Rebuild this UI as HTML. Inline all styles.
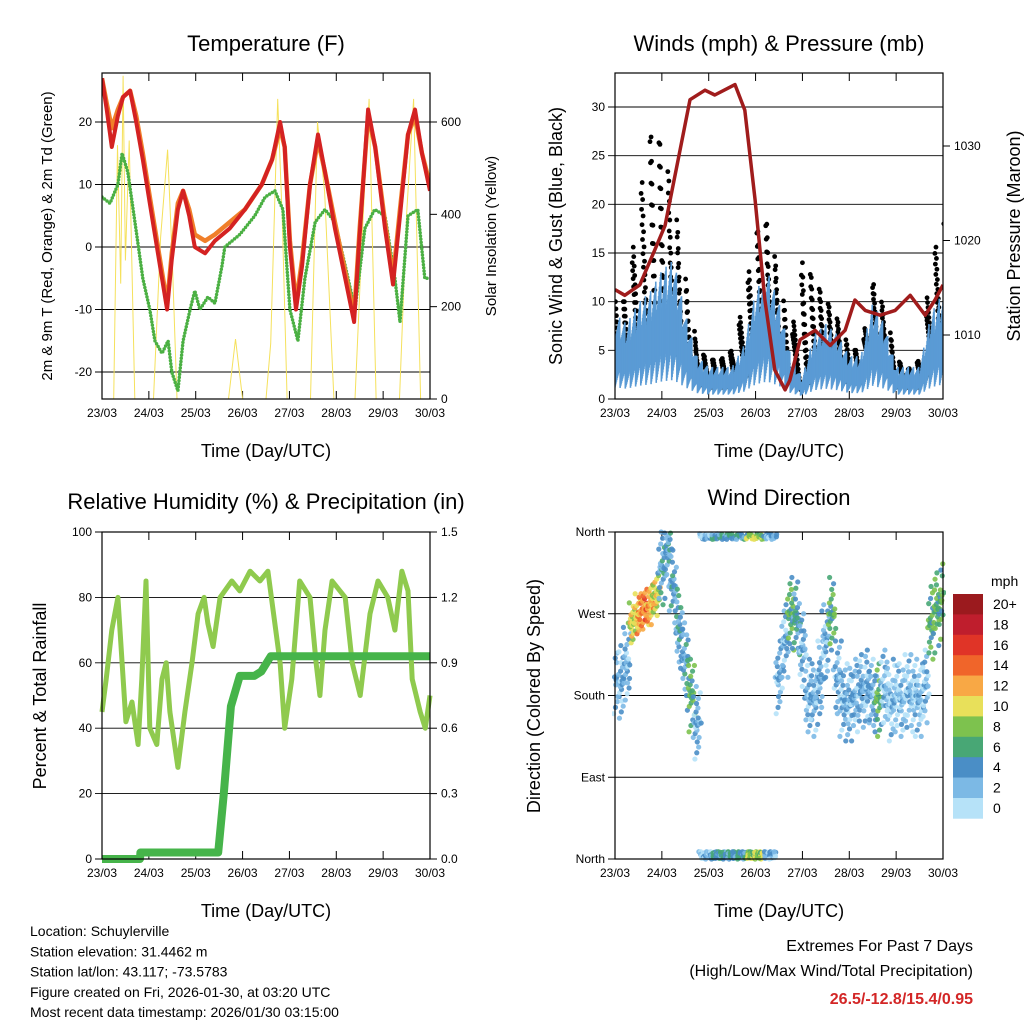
<!DOCTYPE html>
<html><head><meta charset="utf-8"><style>
html,body{margin:0;padding:0;background:#fff;}
svg{display:block;font-family:"Liberation Sans",Arial,sans-serif;}
</style></head><body>
<svg id="s" width="1024" height="1024" viewBox="0 0 1024 1024" xmlns="http://www.w3.org/2000/svg">
<rect width="1024" height="1024" fill="#fff"/>
<g id="g"></g>
</svg>
<script>
// ---------- DATA ----------
const dayLabels=["23/03","24/03","25/03","26/03","27/03","28/03","29/03","30/03"];
const tempTimes=[0,0.1,0.21,0.34,0.45,0.6,0.73,0.87,1.02,1.15,1.28,1.39,1.49,1.62,1.73,1.86,1.98,2.2,2.41,2.73,3.05,3.41,3.63,3.8,3.9,4.01,4.14,4.27,4.44,4.61,4.76,4.97,5.19,5.38,5.5,5.68,5.83,6.04,6.21,6.36,6.53,6.68,6.83,7.0];
const temp2m=[27,22,16,21,24,25,20,14,7,1,-5,-10,-2,6,9,5,0,-1,1,3,6,10,14,20,16,0,-10,-3,10,18,12,3,-5,-12,2,22,16,3,-6,5,18,22,15,9];
const temp9m=[27,23,19,22,24,25,21,15,8,2,-4,-9,-1,7,9,6,2,1,2,4,6,10,14,19,16,1,-9,-2,10,17,12,4,-4,-11,3,21,16,4,-5,6,18,21,15,10];
const dewTimes=[0,0.17,0.34,0.43,0.55,0.74,0.87,1.02,1.13,1.28,1.41,1.49,1.62,1.73,1.88,1.98,2.09,2.26,2.41,2.56,2.62,2.94,3.26,3.48,3.69,3.86,4.01,4.18,4.33,4.55,4.76,4.97,5.19,5.4,5.61,5.82,6.04,6.25,6.36,6.53,6.74,6.89,7.0];
const dewPoint=[8,7,10,15,12,2,-5,-10,-15,-17,-15,-20,-23,-15,-10,-7,-10,-8,-9,-3,0,2,5,8,9,6,-10,-15,-5,4,6,4,-3,-10,3,6,5,-5,-12,5,6,-5,-5];
const solarTimes=[0,0.25,0.33,0.4,0.45,0.5,0.58,0.7,1.1,1.25,1.4,1.5,1.6,2.7,2.85,3.0,3.5,3.6,3.75,3.85,3.95,4.45,4.6,4.75,4.95,5.4,5.55,5.7,5.85,6.35,6.5,6.65,6.8,7.0];
const solarVal=[0,0,550,250,700,300,560,0,0,350,540,300,0,0,130,0,0,120,650,380,0,0,600,450,0,0,350,650,0,0,400,650,0,0];
const windTimes=[0,0.25,0.5,0.75,1,1.25,1.5,1.75,2,2.25,2.5,2.75,3,3.25,3.5,3.75,4,4.25,4.5,4.75,5,5.25,5.5,5.75,6,6.25,6.5,6.75,7];
const windMean=[8,7,9,10,12,13,8,4,3,3,3,5,10,12,9,4,2,6,7,6,4,4,9,7,3,3,3,8,10];
const windGust=[10,10,20,27,26,20,12,5,4,4,5,10,17,18,12,6,14,12,10,8,5,5,12,9,4,3,4,14,18];
const presTimes=[0,0.21,0.53,0.85,1.07,1.39,1.6,1.92,2.13,2.56,2.77,2.99,3.2,3.41,3.63,3.73,3.95,4.27,4.59,4.91,5.12,5.34,5.66,5.98,6.3,6.62,6.83,7.0];
const pressure=[1014.8,1014.2,1015.3,1019,1021.6,1029.6,1034.9,1035.9,1035.4,1036.5,1033.8,1024.3,1013.7,1006.3,1004.2,1005.2,1009.5,1010.5,1008.9,1010.5,1013.7,1012.6,1012.1,1012.6,1014.2,1012.1,1013.7,1015.3];
const rhTimes=[0,0.09,0.21,0.34,0.43,0.51,0.64,0.77,0.85,0.94,1.02,1.17,1.28,1.37,1.45,1.62,1.77,1.92,2.05,2.18,2.26,2.37,2.52,2.77,2.94,3.16,3.37,3.54,3.8,3.9,4.05,4.22,4.44,4.57,4.65,4.76,4.91,5.19,5.34,5.51,5.72,5.89,6.1,6.25,6.4,6.53,6.62,6.79,6.9,7.0];
const rhVal=[45,55,70,80,60,42,48,35,55,85,40,35,55,60,45,28,45,60,75,80,72,65,80,85,82,88,85,88,60,40,55,85,80,60,50,70,85,80,60,50,75,85,80,70,88,82,55,45,40,50];
const rainTimes=[0,0.81,0.82,2.48,2.6,2.75,2.94,3.25,3.4,3.6,7.0];
const rainVal=[0,0,0.03,0.03,0.3,0.7,0.84,0.84,0.86,0.93,0.93];
const dirTimes=[0,0.125,0.25,0.375,0.5,0.625,0.75,0.875,1,1.125,1.25,1.375,1.5,1.625,1.75,1.875,2,2.125,2.25,2.375,2.5,2.625,2.75,2.875,3,3.125,3.25,3.375,3.5,3.625,3.75,3.875,4,4.125,4.25,4.375,4.5,4.625,4.75,4.875,5,5.125,5.25,5.375,5.5,5.625,5.75,5.875,6,6.125,6.25,6.375,6.5,6.625,6.75,6.875,7];
const dirVal=[200,195,215,260,270,275,280,290,320,340,300,250,220,180,150,10,5,358,358,358,5,358,5,5,5,358,5,10,200,240,270,265,230,180,175,200,240,270,200,175,170,180,185,190,180,175,190,170,180,175,185,180,175,190,260,275,285];
const dirSpeed=[3,3,3,10,12,14,12,10,4,4,4,4,4,7,3,2,2,5,5,5,5,5,5,9,9,9,3,3,3,3,7,5,3,3,3,3,3,7,3,3,3,3,3,3,3,7,2,2,2,2,2,2,2,2,7,7,7];
const speedLabels=["20+","18","16","14","12","10","8","6","4","2","0"];
const speedColors=["#9b1a1e","#bf1e2d","#e03427","#f0652a","#f8a845","#e8e05a","#7dc24e","#48a775","#4a8ec6","#7cb9e5","#b6e2f8"];

// ---------- DRAW ----------
const NS="http://www.w3.org/2000/svg";
const G=document.getElementById('g');
function el(tag,attrs,parent,text){const e=document.createElementNS(NS,tag);for(const k in attrs)e.setAttribute(k,attrs[k]);if(text!==undefined)e.textContent=text;(parent||G).appendChild(e);return e;}
function lin(d0,d1,r0,r1){return v=>r0+(v-d0)*(r1-r0)/(d1-d0);}
function interp(ts,vs,t){if(t<=ts[0])return vs[0];for(let i=1;i<ts.length;i++){if(t<=ts[i]){const f=(t-ts[i-1])/(ts[i]-ts[i-1]);return vs[i-1]+f*(vs[i]-vs[i-1]);}}return vs[vs.length-1];}
function pts(ts,vs,xs,ys){return ts.map((t,i)=>xs(t).toFixed(1)+','+ys(vs[i]).toFixed(1)).join(' ');}

function frame(x0,y0,w,h,name){
  const g=el('g',{});
  
  
  return g;
}
function xAxis(g,x0,y0,w,h){
  const xs=lin(0,7,x0,x0+w);
  dayLabels.forEach((lab,i)=>{
    const x=xs(i);
    el('line',{x1:x,y1:y0+h,x2:x,y2:y0+h-8,stroke:'#000','stroke-width':1},g);
    el('line',{x1:x,y1:y0,x2:x,y2:y0+8,stroke:'#000','stroke-width':1},g);
    const t=el('text',{x:x,y:y0+h+18,'font-size':12,'text-anchor':'middle'},g,lab);
    
    
  });
  const t=el('text',{x:x0+w/2,y:y0+h+58,'font-size':18,'text-anchor':'middle'},g,'Time (Day/UTC)');
  
  
  return xs;
}
function yTicks(g,x0,y0,w,h,ys,vals,labels,side,grid){
  vals.forEach((v,i)=>{
    const y=ys(v);
    if(side==='left'){
      if(grid) el('line',{x1:x0-7,y1:y,x2:x0+w,y2:y,stroke:'#000','stroke-width':0.9},g);
      else el('line',{x1:x0-7,y1:y,x2:x0,y2:y,stroke:'#000'},g);
      const t=el('text',{x:x0-10,y:y+4,'font-size':12,'text-anchor':'end'},g,labels[i]);
      
      
    }else{
      el('line',{x1:x0+w,y1:y,x2:x0+w+7,y2:y,stroke:'#000'},g);
      const t=el('text',{x:x0+w+11,y:y+4,'font-size':12,'text-anchor':'start'},g,labels[i]);
      
      
    }
  });
}
function border(g,x0,y0,w,h){el('rect',{x:x0,y:y0,width:w,height:h,fill:'none',stroke:'#000','stroke-width':1.2},g);}
function title(txt,x,y,name){const t=el('text',{x:x,y:y,'font-size':22,'text-anchor':'middle'},G,txt);}
function vtitle(txt,x,y,size,name){const t=el('text',{x:x,y:y,'font-size':size,'text-anchor':'middle',transform:`rotate(-90 ${x} ${y})`},G,txt);}

// Panel 1: temperature
(function(){
  const x0=102,y0=73,w=328,h=326;
  const g=frame(x0,y0,w,h,'temperature-panel');
  const ys=lin(0,20,247,122), ys2=lin(0,600,399,122);
  yTicks(g,x0,y0,w,h,ys,[-20,-10,0,10,20],["-20","-10","0","10","20"],'left',true);
  yTicks(g,x0,y0,w,h,ys2,[0,200,400,600],["0","200","400","600"],'right',false);
  const xs=xAxis(g,x0,y0,w,h);
  const clip=el('clipPath',{id:'c1'},g);el('rect',{x:x0,y:y0,width:w,height:h},clip);
  const p=el('g',{'clip-path':'url(#c1)'},g);
  let l=el('polyline',{points:pts(solarTimes,solarVal,xs,ys2),fill:'none',stroke:'#f5e15c','stroke-width':1},p);
  
  l=el('polyline',{points:pts(dewTimes,dewPoint,xs,ys),fill:'none',stroke:'#4bb043','stroke-width':3.5,'stroke-linecap':'round','stroke-dasharray':'0 3.2'},p);
  
  l=el('polyline',{points:pts(tempTimes,temp9m,xs,ys),fill:'none',stroke:'#f07f2a','stroke-width':4.5,'stroke-linejoin':'round'},p);
  
  l=el('polyline',{points:pts(tempTimes,temp2m,xs,ys),fill:'none',stroke:'#d42222','stroke-width':4,'stroke-linejoin':'round'},p);
  
  border(g,x0,y0,w,h);
  title('Temperature (F)',266,51,'temperature-title');
  vtitle('2m & 9m T (Red, Orange) & 2m Td (Green)',52,236,15,'temperature-y-axis-title');
  vtitle('Solar Insolation (Yellow)',496,236,15,'solar-y-axis-title');
})();

// Panel 2: winds & pressure
(function(){
  const x0=615,y0=73,w=328,h=326;
  const g=frame(x0,y0,w,h,'winds-pressure-panel');
  const ys=lin(0,30,399,107), ys2=lin(1010,1030,335,146);
  yTicks(g,x0,y0,w,h,ys,[0,5,10,15,20,25,30],["0","5","10","15","20","25","30"],'left',true);
  yTicks(g,x0,y0,w,h,ys2,[1010,1020,1030],["1010","1020","1030"],'right',false);
  const xs=xAxis(g,x0,y0,w,h);
  const clip=el('clipPath',{id:'c2'},g);el('rect',{x:x0,y:y0,width:w,height:h},clip);
  const p=el('g',{'clip-path':'url(#c2)'},g);
  const black=el('g',{},p);
  const blue=el('g',{},p);
  for(let i=0;i<=700;i++){
    const t=i/100, m=interp(windTimes,windMean,t), gu=interp(windTimes,windGust,t);
    for(let j=0;j<2;j++){
      const f=((i*37+j*53)%19)/18;
      el('circle',{cx:xs(t)+j*0.8,cy:ys(m*0.4+(gu-m*0.4)*f*f),r:2.4,fill:'#000'},black);
    }
    const f2=((i*23)%11)/10;
    el('line',{x1:xs(t),x2:xs(t),y1:ys(m*(0.15+0.25*f2)),y2:ys(m*(0.75+0.35*f2)),stroke:'#5a9bd5','stroke-width':1.6},blue);
  }
  const l=el('polyline',{points:pts(presTimes,pressure,xs,ys2),fill:'none',stroke:'#a01c1c','stroke-width':3.5,'stroke-linejoin':'round'},p);
  
  border(g,x0,y0,w,h);
  title('Winds (mph) & Pressure (mb)',779,51,'winds-title');
  vtitle('Sonic Wind & Gust (Blue, Black)',562,236,18,'wind-y-axis-title');
  vtitle('Station Pressure (Maroon)',1020,236,18,'pressure-y-axis-title');
})();

// Panel 3: RH & precipitation
(function(){
  const x0=102,y0=532,w=328,h=327;
  const g=frame(x0,y0,w,h,'humidity-precip-panel');
  const ys=lin(0,100,859,532), ys2=lin(0,1.5,859,532);
  yTicks(g,x0,y0,w,h,ys,[0,20,40,60,80,100],["0","20","40","60","80","100"],'left',true);
  yTicks(g,x0,y0,w,h,ys2,[0,0.3,0.6,0.9,1.2,1.5],["0.0","0.3","0.6","0.9","1.2","1.5"],'right',false);
  const xs=xAxis(g,x0,y0,w,h);
  let l=el('polyline',{points:pts(rhTimes,rhVal,xs,ys),fill:'none',stroke:'#8fca4e','stroke-width':5,'stroke-linejoin':'round'},g);
  
  l=el('polyline',{points:pts(rainTimes,rainVal,xs,ys2),fill:'none',stroke:'#46b44a','stroke-width':8,'stroke-linejoin':'round'},g);
  
  border(g,x0,y0,w,h);
  title('Relative Humidity (%) & Precipitation (in)',266,509,'humidity-title');
  vtitle('Percent & Total Rainfall',46,696,18,'humidity-y-axis-title');
})();

// Panel 4: wind direction
(function(){
  const x0=615,y0=532,w=328,h=327;
  const g=frame(x0,y0,w,h,'wind-direction-panel');
  const ys=lin(0,360,859,532);
  yTicks(g,x0,y0,w,h,ys,[0,90,180,270,360],["North","East","South","West","North"],'left',true);
  const xs=xAxis(g,x0,y0,w,h);
  const clip=el('clipPath',{id:'c4'},g);el('rect',{x:x0-3,y:y0-3,width:w+6,height:h+6},clip);
  const p=el('g',{'clip-path':'url(#c4)'},g);
  
  for(let i=0;i<=1400;i++){
    const t=i/200;
    let k=Math.round(t/0.125);k=Math.min(k,dirVal.length-1);
    const d=dirVal[k], sp=dirSpeed[k];
    const north=(d<20||d>340);
    const spread=north?10:(sp>8?22:40);
    const u=((i*29)%23)/11-1;
    let dd=d+spread*u*Math.abs(u);
    if(north){dd=((i%3)===0)?358-Math.abs(spread*u*0.6):Math.abs(spread*u*0.8);}
    if(dd<0)dd=-dd; if(dd>360)dd=720-dd;
    const sv=Math.max(0,sp+((i*7)%5)-2);
    const bin=Math.min(10,Math.floor(sv/2));
    el('circle',{cx:xs(t+(((i*11)%7)-3)*0.01),cy:ys(dd),r:2.6,fill:speedColors[10-bin],'fill-opacity':0.9},p);
  }
  border(g,x0,y0,w,h);
  title('Wind Direction',779,505,'wind-direction-title');
  vtitle('Direction (Colored By Speed)',540,696,18,'direction-y-axis-title');
  const cb=el('g',{});
  const top=594,bh=20.4;
  speedColors.forEach((c,i)=>{el('rect',{x:953,y:top+i*bh,width:30,height:bh+0.3,fill:c},cb);
    const t=el('text',{x:993,y:top+i*bh+15,'font-size':14},cb,speedLabels[i]);
    });
  const t=el('text',{x:991,y:586,'font-size':14},cb,'mph');
})();

// Footer text
const info=["Location: Schuylerville","Station elevation: 31.4462 m","Station lat/lon: 43.117; -73.5783","Figure created on Fri, 2026-01-30, at 03:20 UTC","Most recent data timestamp: 2026/01/30 03:15:00"];
info.forEach((s,i)=>{const t=el('text',{x:30,y:936+i*20.3,'font-size':14},G,s);});
let t=el('text',{x:973,y:951,'font-size':16,'text-anchor':'end'},G,'Extremes For Past 7 Days');
t=el('text',{x:973,y:976,'font-size':16,'text-anchor':'end'},G,'(High/Low/Max Wind/Total Precipitation)');
t=el('text',{x:973,y:1004,'font-size':16,'font-weight':'bold','text-anchor':'end',fill:'#d32626'},G,'26.5/-12.8/15.4/0.95');
</script>
</body></html>
